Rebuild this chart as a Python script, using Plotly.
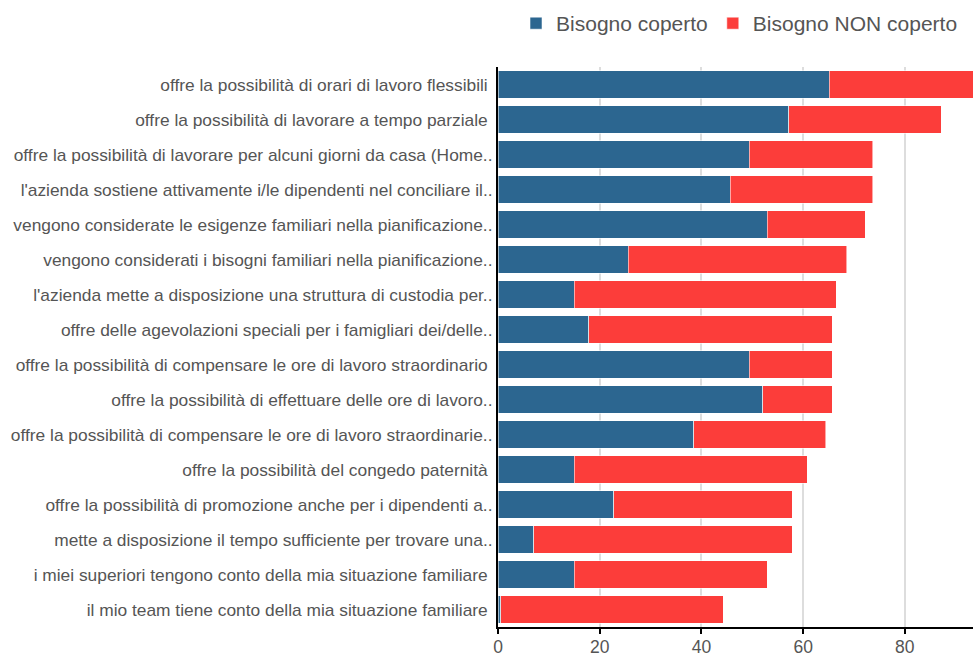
import plotly.graph_objects as go

categories = [
    "offre la possibilità di orari di lavoro flessibili\u00a0",
    "offre la possibilità di lavorare a tempo parziale\u00a0",
    "offre la possibilità di lavorare per alcuni giorni da casa (Home..",
    "l'azienda sostiene attivamente i/le dipendenti nel conciliare il..",
    "vengono considerate le esigenze familiari nella pianificazione..",
    "vengono considerati i bisogni familiari nella pianificazione..",
    "l'azienda mette a disposizione una struttura di custodia per..",
    "offre delle agevolazioni speciali per i famigliari dei/delle..",
    "offre la possibilità di compensare le ore di lavoro straordinario\u00a0",
    "offre la possibilità di effettuare delle ore di lavoro..",
    "offre la possibilità di compensare le ore di lavoro straordinarie..",
    "offre la possibilità del congedo paternità\u00a0",
    "offre la possibilità di promozione anche per i dipendenti a..",
    "mette a disposizione il tempo sufficiente per trovare una..",
    "i miei superiori tengono conto della mia situazione familiare\u00a0",
    "il mio team tiene conto della mia situazione familiare\u00a0",
]
coperto = [65.1, 57.2, 49.4, 45.7, 52.9, 25.6, 15.0, 17.8, 49.4, 52.1, 38.5, 15.0, 22.8, 7.0, 15.0, 0.5]
non_coperto = [28.9, 30.0, 24.3, 28.0, 19.3, 43.0, 51.5, 47.9, 16.3, 13.6, 25.9, 45.8, 35.1, 50.9, 37.9, 43.8]
x_ticks = [0, 20, 40, 60, 80]

BLUE = "#2C6690"
RED = "#FC3D3A"

fig = go.Figure()
fig.add_trace(go.Bar(
    y=categories, x=coperto, orientation="h", name="Bisogno coperto",
    marker=dict(color=BLUE, line=dict(color="rgba(255,255,255,0.55)", width=1)),
))
fig.add_trace(go.Bar(
    y=categories, x=non_coperto, orientation="h", name="Bisogno NON coperto",
    marker=dict(color=RED, line=dict(color="rgba(255,255,255,0.55)", width=1)),
))

fig.update_layout(
    barmode="stack",
    bargap=0.22,
    width=973, height=658,
    margin=dict(l=498, r=0, t=67, b=31, autoexpand=False),
    paper_bgcolor="white", plot_bgcolor="white",
    font=dict(family="Liberation Sans, Arial, sans-serif", color="#555555", size=17.35),
    showlegend=True,
    legend=dict(
        orientation="h", xanchor="right", x=0.979, yanchor="bottom", y=1.041,
        font=dict(size=21, color="#555555"), itemwidth=30, traceorder="normal",
        bgcolor="rgba(0,0,0,0)",
    ),
    xaxis=dict(
        range=[0, 93.4], tickvals=x_ticks, ticktext=[str(v) for v in x_ticks],
        showgrid=True, gridcolor="#DDDDDD", gridwidth=1.5,
        showline=True, linecolor="black", linewidth=2,
        ticks="outside", ticklen=5, tickcolor="black", tickwidth=1.5,
        zeroline=False, tickfont=dict(size=17.5, color="#555555"), fixedrange=True,
        ticklabelstandoff=-2,
    ),
    yaxis=dict(
        autorange="reversed", showline=True, linecolor="black", linewidth=2,
        showgrid=False, ticks="", ticklen=0, tickfont=dict(size=17.35, color="#555555"),
        ticklabelstandoff=0, fixedrange=True,
    ),
)

fig.write_html("out.html", config={"displayModeBar": False},
               post_script="document.body.style.margin='0';")
